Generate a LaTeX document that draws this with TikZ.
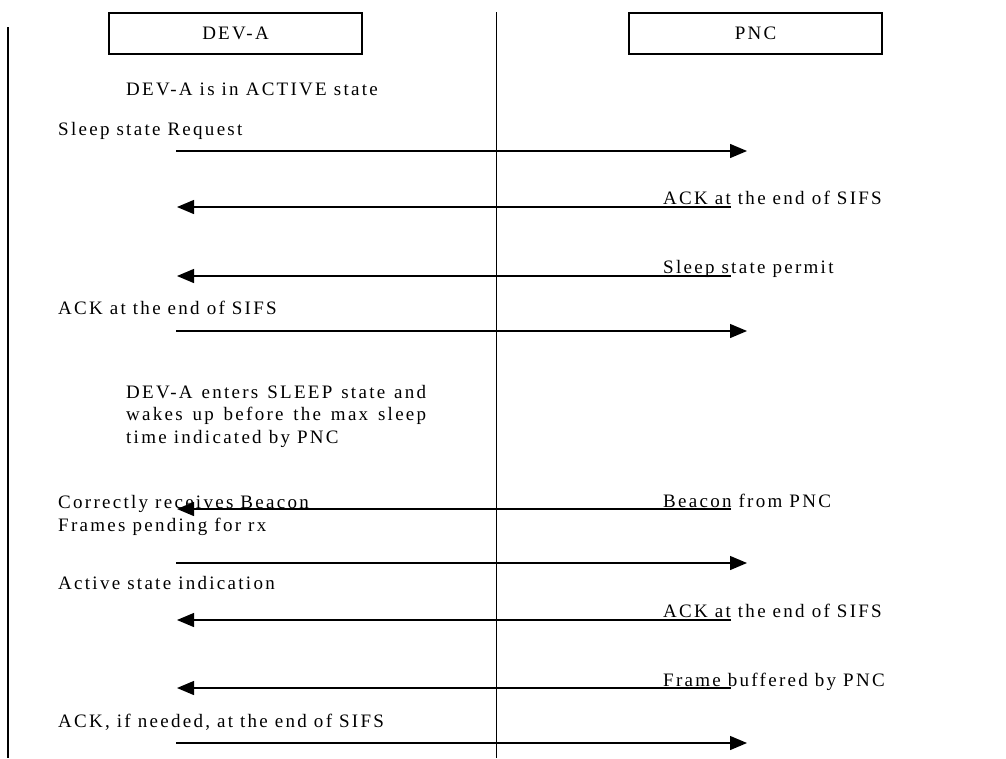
\documentclass[tikz,border=0pt]{standalone}
\usepackage{fontspec}
\setmainfont{Liberation Serif}[LetterSpace=12]
\usetikzlibrary{arrows.meta}
\begin{document}
\begin{tikzpicture}[x=1pt,y=-1pt,
  lbl/.style={anchor=base west,inner sep=0pt,font=\fontsize{19}{22.5}\selectfont},
  head/.style={draw,line width=1.1pt,minimum width=253pt,minimum height=41pt,inner sep=0pt,font=\fontsize{19}{22}\selectfont},
  msg/.style={line width=1.3pt,-{Triangle[length=17pt,width=14pt]}},
  life/.style={line width=0.8pt},
  border/.style={line width=1.6pt}]
\useasboundingbox (0,0) rectangle (1006,758);
% headers
\node[head] (deva) at (235.5,33.5) {DEV-A};
\node[head] (pnc) at (755.5,33.5) {PNC};
% lifelines
\coordinate (lt) at (8,27);
\coordinate (lb) at (8,758);
\coordinate (ct) at (496,12);
\coordinate (cb) at (496,758);
\draw[border] (lt) -- (lb);
\draw[life] (ct) -- (cb);
% texts
\node[lbl] (t1) at (126,95) {DEV-A is in ACTIVE state};
\node[lbl] (t2) at (58,135) {Sleep state Request};
\node[lbl] (t3) at (663,204) {ACK at the end of SIFS};
\node[lbl] (t4) at (663,273) {Sleep state permit};
\node[lbl] (t5) at (58,314) {ACK at the end of SIFS};
\node[lbl] (t6) at (126,398) {\vtop{\hsize=300pt\baselineskip=22.5pt
  \noindent\makebox[300pt][s]{DEV-A enters SLEEP state and}\par
  \noindent\makebox[300pt][s]{wakes up before the max sleep}\par
  \noindent time indicated by PNC\par}};
\node[lbl] (t7) at (58,508) {Correctly receives Beacon};
\node[lbl] (t8) at (58,531) {Frames pending for rx};
\node[lbl] (t9) at (663,507) {Beacon from PNC};
\node[lbl] (t10) at (58,589) {Active state indication};
\node[lbl] (t11) at (663,617) {ACK at the end of SIFS};
\node[lbl] (t12) at (663,686) {Frame buffered by PNC};
\node[lbl] (t13) at (58,727) {ACK, if needed, at the end of SIFS};
% message end points
\foreach \n/\y in {1/151,4/331,6/563,9/743}{
  \coordinate (s\n) at (176,\y);
  \coordinate (e\n) at (747,\y);
}
\foreach \n/\y in {2/207,3/276,5/509,7/620,8/688}{
  \coordinate (s\n) at (731,\y);
  \coordinate (e\n) at (177,\y);
}
\foreach \n in {1,...,9}{
  \draw[msg] (s\n) -- (e\n);
}
\end{tikzpicture}
\end{document}
